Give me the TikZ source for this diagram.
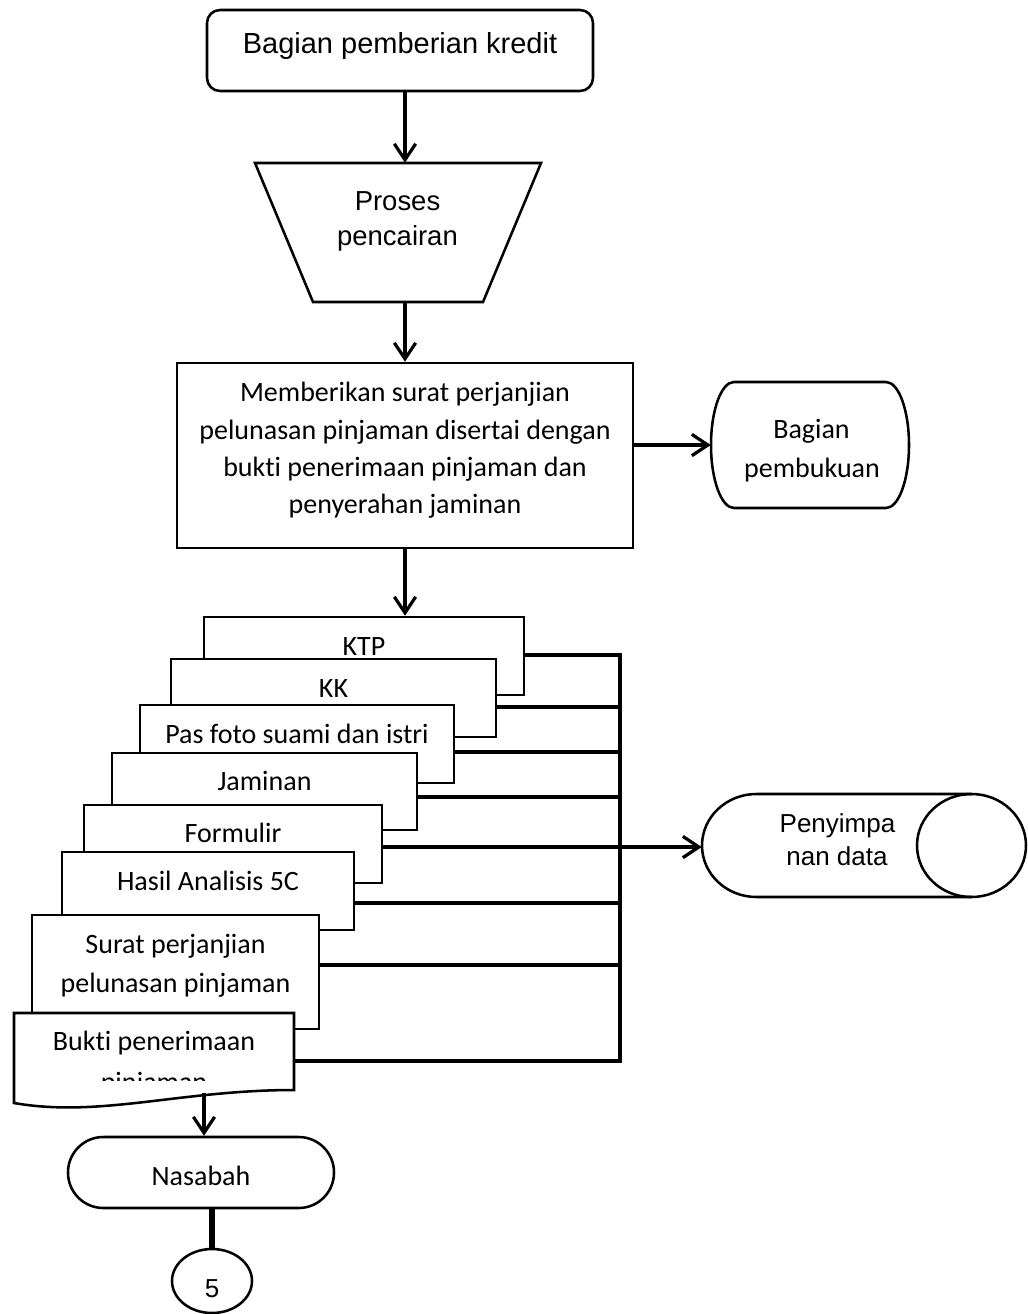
\documentclass[tikz,border=0pt]{standalone}
\usepackage{fontspec}
\setmainfont{Carlito}[Ligatures={NoCommon}]
\newfontfamily\arialfont{Liberation Sans}
\usetikzlibrary{arrows.meta,fit,shapes.geometric}
\begin{document}
\begin{tikzpicture}[x=0.75pt,y=-0.75pt,
  shp/.style={draw=black, line width=1.9pt, fill=white, line join=miter},
  box/.style={shp, inner sep=0pt},
  anc/.style={inner sep=0pt},
  arr/.style={line width=2.4pt, -{Straight Barb[length=12pt,width=16pt]}},
  conn/.style={line width=2.6pt},
  txt/.style={anchor=base, inner sep=0pt, font=\fontsize{21}{25}\selectfont},
  atxtA/.style={anchor=base, inner sep=0pt, font=\arialfont\fontsize{21.75}{25}\selectfont},
  atxtB/.style={anchor=base, inner sep=0pt, font=\arialfont\fontsize{20.6}{25}\selectfont},
  atxtC/.style={anchor=base, inner sep=0pt, font=\arialfont\fontsize{19.5}{25}\selectfont},
]
\useasboundingbox (0,0) rectangle (1028,1314);

% top terminator
\node[box, rounded corners=9.75pt, fit={(207,10)(593,91)}] (top) {};
\node[atxtA] (topT) at (400,53) {Bagian pemberian kredit};

% trapezoid (manual operation)
\node[anc, fit={(255,163)(541,302)}] (trap) {};
\draw[shp] (255,163) -- (541,163) -- (483,302) -- (313,302) -- cycle;
\node[atxtB] (trapT1) at (397.5,210) {Proses};
\node[atxtB] (trapT2) at (397.5,245) {pencairan};

% process box
\node[box, fit={(177,363)(633,548)}] (proc) {};
\node[txt] (procT1) at (405,401) {Memberikan surat perjanjian};
\node[txt] (procT2) at (405,439) {pelunasan pinjaman disertai dengan};
\node[txt] (procT3) at (405,476.5) {bukti penerimaan pinjaman dan};
\node[txt] (procT4) at (405,513.5) {penyerahan jaminan};

% Bagian pembukuan
\node[anc, fit={(711,382)(909,508)}] (pemb) {};
\draw[shp] (734,382) -- (886,382)
  arc[start angle=90, end angle=-90, x radius=17.25pt, y radius=47.25pt]
  -- (734,508)
  arc[start angle=270, end angle=90, x radius=17.25pt, y radius=47.25pt] -- cycle;
\node[txt] (pembT1) at (811.5,438) {Bagian};
\node[txt] (pembT2) at (812,477) {pembukuan};

% document stack
\node[box, fit={(204,617)(524,695)}] (ktp) {};
\node[txt] (ktpT) at (364,655) {KTP};
\node[box, fit={(171,659)(496,737)}] (kk) {};
\node[txt] (kkT) at (333.5,697) {KK};
\node[box, fit={(140,705)(454,783)}] (foto) {};
\node[txt] (fotoT) at (297,743) {Pas foto suami dan istri};
\node[box, fit={(112,753)(417,830)}] (jam) {};
\node[txt] (jamT) at (264.5,790) {Jaminan};
\node[box, fit={(84,805)(382,883)}] (form) {};
\node[txt] (formT) at (233,842) {Formulir};
\node[box, fit={(62,852)(354,930)}] (hasil) {};
\node[txt] (hasilT) at (208,890) {Hasil Analisis 5C};
\node[box, fit={(32,915)(319,1029)}] (surat) {};
\node[txt] (suratT1) at (175.5,953) {Surat perjanjian};
\node[txt] (suratT2) at (175.5,992) {pelunasan pinjaman};
\node[anc, fit={(14,1013)(294,1103)}] (bukti) {};
\draw[shp] (14,1013) -- (294,1013) -- (294,1090)
  .. controls (180,1090) and (100,1118) .. (14,1103) -- cycle;
\node[txt] (buktiT1) at (154,1050) {Bukti penerimaan};
\begin{scope}
  \clip (14,1013) rectangle (294,1080);
  \node[txt] (buktiT2) at (154,1091) {pinjaman};
\end{scope}
\coordinate (bk) at (204,1093);

% Penyimpanan data
\node[anc, fit={(702,794)(1026,897)}] (peny) {};
\draw[shp, fill=none] (971.5,794) -- (756.5,794)
  arc[start angle=90, end angle=270, x radius=40.875pt, y radius=38.625pt]
  -- (971.5,897);
\draw[shp, fill=none] (971.5,845.5) ellipse[x radius=40.875pt, y radius=38.625pt];
\node[atxtC] (penyT1) at (837.5,832) {Penyimpa};
\node[atxtC] (penyT2) at (837,865) {nan data};

% Nasabah
\node[box, rounded corners=26.5pt, fit={(68,1137)(334,1208)}] (nas) {};
\node[txt] (nasT) at (201,1185) {Nasabah};

% connector 5
\node[draw, line width=1.9pt, ellipse, minimum width=60pt, minimum height=48pt, inner sep=0pt] (c5) at (212,1281) {};
\node[atxtC] (c5T) at (212,1297) {5};

% bus coordinates
\coordinate (b1) at (620,655);
\coordinate (b2) at (620,707);
\coordinate (b3) at (620,752);
\coordinate (b4) at (620,797);
\coordinate (b5) at (620,847);
\coordinate (b6) at (620,903);
\coordinate (b7) at (620,965);
\coordinate (b8) at (620,1061);

% connectors
\draw[arr] (top.south -| proc.north) -- (trap.north -| proc.north);
\draw[arr] (trap.south -| proc.north) -- (proc.north);
\draw[arr] (pemb.west -| proc.east) -- (pemb.west);
\draw[arr] (proc.south) -- (proc.south |- ktp.north);
\draw[conn] (ktp.east |- b1) -- (b1) -- (b8) -- (bukti.east |- b8);
\draw[conn] (kk.east |- b2) -- (b2);
\draw[conn] (foto.east |- b3) -- (b3);
\draw[conn] (jam.east |- b4) -- (b4);
\draw[conn] (form.east |- b5) -- (b5);
\draw[conn] (hasil.east |- b6) -- (b6);
\draw[conn] (surat.east |- b7) -- (b7);
\draw[arr] (b5) -- (b5 -| peny.west);
\draw[arr] (bk) -- (bk |- nas.north);
\draw[line width=5pt] (nas.south -| c5.north) -- (c5.north);
\end{tikzpicture}
\end{document}
